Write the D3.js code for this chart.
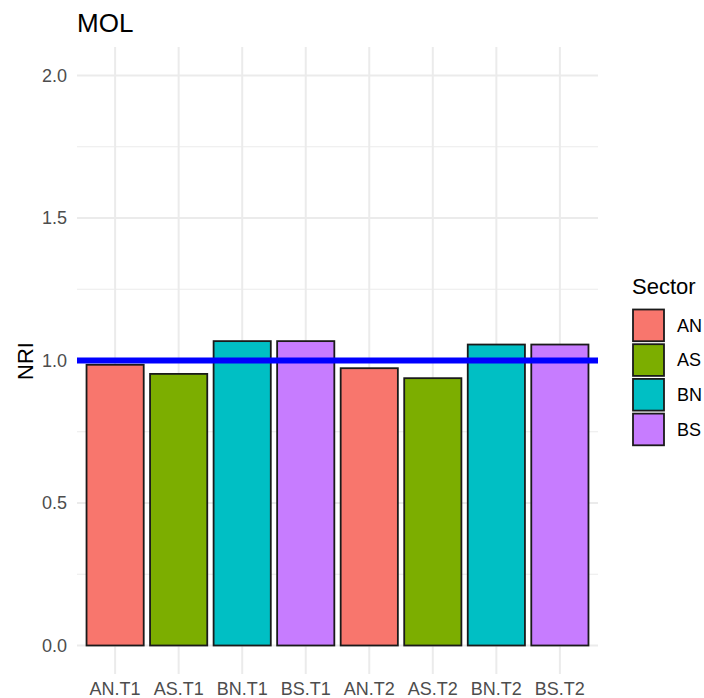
<!DOCTYPE html>
<html><head><meta charset="utf-8">
<script src="https://cdn.jsdelivr.net/npm/d3@7"></script>
<style>body{margin:0;background:#fff;font-family:"Liberation Sans",Arial,sans-serif;}</style>
</head><body>
<svg id="c" width="704" height="698"></svg>
<script>
const categories = ["AN.T1","AS.T1","BN.T1","BS.T1","AN.T2","AS.T2","BN.T2","BS.T2"];
const sectors = ["AN","AS","BN","BS","AN","AS","BN","BS"];
const values = [0.985, 0.953, 1.068, 1.068, 0.973, 0.938, 1.056, 1.056];
const legendSectors = ["AN","AS","BN","BS"];
const sectorColors = ["#F8766D","#7CAE00","#00BFC4","#C77CFF"];
const yTicks = [0, 0.5, 1.0, 1.5, 2.0];
const yMinor = [0.25, 0.75, 1.25, 1.75];
const refLine = 1.0;

const svg = d3.select("#c");
const L = 77, R = 598;
const y = d3.scaleLinear().domain([-0.1, 2.1]).range([674, 47]);
const step = (R - L) / (categories.length + 0.2);
const x = d3.scaleBand().domain(categories).range([L + 0.1*step, R - 0.1*step]).paddingInner(0.1).paddingOuter(0.05);
const color = d3.scaleOrdinal().domain(legendSectors).range(sectorColors);

const g = svg.append("g");
g.selectAll(".ymin").data(yMinor).enter().append("line")
  .attr("x1", L).attr("x2", R).attr("y1", d=>y(d)).attr("y2", d=>y(d))
  .attr("stroke", "#ebebeb").attr("stroke-width", 1);
g.selectAll(".ymaj").data(yTicks).enter().append("line")
  .attr("x1", L).attr("x2", R).attr("y1", d=>y(d)).attr("y2", d=>y(d))
  .attr("stroke", "#ebebeb").attr("stroke-width", 2);
g.selectAll(".xmaj").data(categories).enter().append("line")
  .attr("x1", d=>x(d)+x.bandwidth()/2).attr("x2", d=>x(d)+x.bandwidth()/2)
  .attr("y1", y(2.1)).attr("y2", y(-0.1))
  .attr("stroke", "#ebebeb").attr("stroke-width", 2);

g.selectAll(".bar").data(categories).enter().append("rect")
  .attr("x", d=>x(d)).attr("width", x.bandwidth())
  .attr("y", (d,i)=>y(values[i])).attr("height", (d,i)=>y(0)-y(values[i]))
  .attr("fill", (d,i)=>color(sectors[i]))
  .attr("stroke", "#1a1a1a").attr("stroke-width", 1.8);

g.append("line").attr("x1", L).attr("x2", R).attr("y1", y(refLine)).attr("y2", y(refLine))
  .attr("stroke", "#0000FF").attr("stroke-width", 6);

g.selectAll(".yl").data(yTicks).enter().append("text")
  .attr("x", 67).attr("y", d=>y(d)).attr("dy", "0.35em")
  .attr("text-anchor", "end").attr("font-size", 18).attr("fill", "#4d4d4d")
  .text(d=>d3.format(".1f")(d));
g.selectAll(".xl").data(categories).enter().append("text")
  .attr("x", d=>x(d)+x.bandwidth()/2).attr("y", 695)
  .attr("text-anchor", "middle").attr("font-size", 18).attr("fill", "#4d4d4d")
  .text(d=>d);

svg.append("text").attr("transform", "translate(33,361) rotate(-90)")
  .attr("text-anchor", "middle").attr("font-size", 22).attr("fill", "#000").text("NRI");
svg.append("text").attr("x", 77).attr("y", 32).attr("font-size", 26).attr("fill", "#000").text("MOL");

const lg = svg.append("g");
lg.append("text").attr("x", 632).attr("y", 294).attr("font-size", 22).attr("fill", "#000").text("Sector");
const kh = 34.7;
lg.selectAll(".k").data(legendSectors).enter().append("rect")
  .attr("x", 633).attr("y", (d,i)=>309.5 + i*kh).attr("width", 31).attr("height", kh-3)
  .attr("fill", d=>color(d)).attr("stroke", "#1a1a1a").attr("stroke-width", 1.8);
lg.selectAll(".kl").data(legendSectors).enter().append("text")
  .attr("x", 677).attr("y", (d,i)=>309.5 + i*kh + (kh-3)/2).attr("dy", "0.35em")
  .attr("font-size", 18).attr("fill", "#000").text(d=>d);
</script>
</body></html>
